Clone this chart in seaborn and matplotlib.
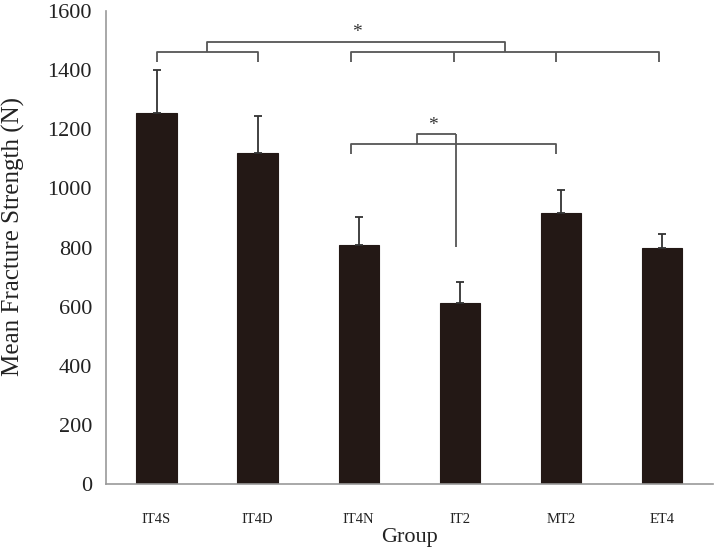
import matplotlib
matplotlib.use("Agg")
import matplotlib.pyplot as plt
import seaborn as sns
import numpy as np

groups = ["IT4S", "IT4D", "IT4N", "IT2", "MT2", "ET4"]
means = [1254, 1119, 808, 611, 918, 797]
sds = [146, 127, 94, 72, 77, 49]

# significance brackets (x in category units, y in N)
upper_left_x = [0.0, 1.0]
upper_right_x = [1.92, 2.94, 3.95, 4.97]
upper_y, upper_leg = 1462, 1429
upper_join_y = 1496
lower_x = [1.92, 3.95]
lower_y, lower_leg = 1149, 1115
inner_x = [2.58, 2.96]
inner_y = 1184
inner_drop = 803

sns.set_style("white")
plt.rcParams["font.family"] = ["Liberation Serif", "DejaVu Serif"]

fig = plt.figure(figsize=(7.18, 5.54), dpi=100)
ax = fig.add_axes([0.1476, 0.1264, 0.845, 0.8536])

bar_color = "#231815"
sns.barplot(x=groups, y=means, color=bar_color, width=0.4, ax=ax,
            edgecolor=bar_color, linewidth=0.8, saturation=1)
ax.errorbar(np.arange(len(groups)), means, yerr=[np.zeros(len(sds)), sds],
            fmt="none", ecolor="#333333", elinewidth=1.3, capsize=3, capthick=1.3)

line_kw = dict(color="#555555", lw=1.3, solid_capstyle="butt")
# upper bracket pair
ax.plot([upper_left_x[0], upper_left_x[0], upper_left_x[1], upper_left_x[1]],
        [upper_leg, upper_y, upper_y, upper_leg], **line_kw)
ax.plot([upper_right_x[0], upper_right_x[0], upper_right_x[-1], upper_right_x[-1]],
        [upper_leg, upper_y, upper_y, upper_leg], **line_kw)
for xm in upper_right_x[1:-1]:
    ax.plot([xm, xm], [upper_y, upper_leg], **line_kw)
mid_l = np.mean(upper_left_x)
mid_r = np.mean([upper_right_x[0], upper_right_x[-1]])
ax.plot([mid_l, mid_l, mid_r, mid_r], [upper_y, upper_join_y, upper_join_y, upper_y], **line_kw)
ax.text(1.98, upper_join_y + 2, "*", ha="center", va="bottom", fontsize=14, color="#333333")

# lower bracket
ax.plot([lower_x[0], lower_x[0], lower_x[1], lower_x[1]],
        [lower_leg, lower_y, lower_y, lower_leg], **line_kw)
ax.plot([inner_x[0], inner_x[0], inner_x[1]], [lower_y, inner_y, inner_y], **line_kw)
ax.plot([inner_x[1], inner_x[1]], [inner_y, inner_drop], **line_kw)
ax.text(np.mean(inner_x) - 0.04, inner_y, "*", ha="center", va="bottom", fontsize=14, color="#333333")

ax.set_ylim(0, 1600)
ax.set_xlim(-0.5, len(groups) - 0.5)
ax.set_yticks(range(0, 1601, 200))
ax.set_xticks(np.arange(len(groups)))
ax.set_xticks(np.arange(len(groups) + 1) - 0.5, minor=True)
ax.tick_params(axis="x", which="major", length=0, pad=21, labelsize=10.5, labelcolor="#222222")
ax.tick_params(axis="x", which="minor", length=6, width=1, color="#999999", direction="out")
ax.tick_params(axis="y", length=6, width=1, color="#999999", direction="out",
               labelsize=16, labelcolor="#222222", pad=4)

sns.despine(ax=ax)
for side in ["left", "bottom"]:
    ax.spines[side].set_color("#999999")
    ax.spines[side].set_linewidth(1.2)

ax.set_xlabel("Group", fontsize=16, color="#222222", labelpad=1)
ax.set_ylabel("Mean Fracture Strength (N)", fontsize=18, color="#222222")
ax.yaxis.set_label_coords(-0.133, 0.524)

fig.savefig("out.png", dpi=100)
